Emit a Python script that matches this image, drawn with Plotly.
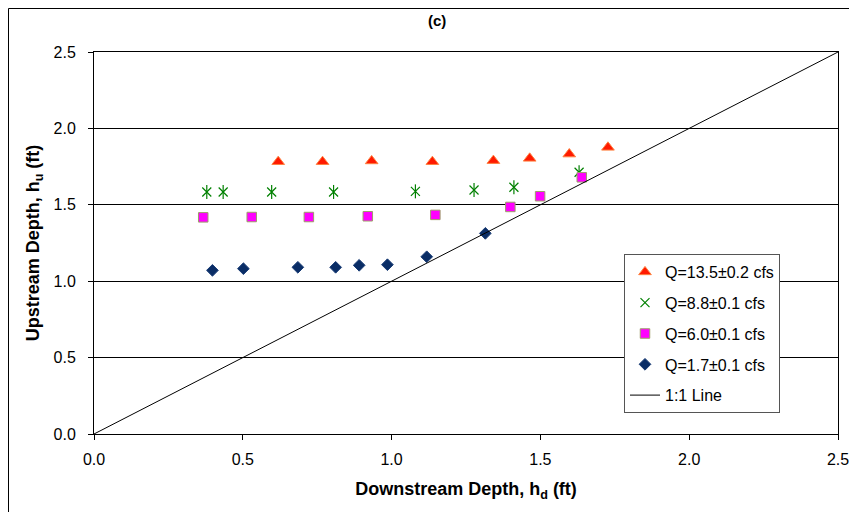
import plotly.graph_objects as go

# ---- data ----
q135_x = [0.619, 0.768, 0.933, 1.137, 1.342, 1.464, 1.597, 1.727]
q135_y = [1.782, 1.782, 1.787, 1.782, 1.789, 1.804, 1.832, 1.876]

q88_x = [0.379, 0.434, 0.597, 0.805, 1.080, 1.277, 1.411, 1.630]
q88_y = [1.584, 1.584, 1.584, 1.584, 1.588, 1.597, 1.615, 1.713]

q60_x = [0.367, 0.530, 0.722, 0.920, 1.147, 1.399, 1.499, 1.639]
q60_y = [1.418, 1.420, 1.420, 1.425, 1.434, 1.486, 1.556, 1.680]

q17_x = [0.398, 0.502, 0.685, 0.812, 0.891, 0.986, 1.118, 1.315]
q17_y = [1.071, 1.082, 1.091, 1.091, 1.104, 1.108, 1.160, 1.313]

line_x = [0.0, 2.5]
line_y = [0.0, 2.5]

tick_vals = [0.0, 0.5, 1.0, 1.5, 2.0, 2.5]
tick_text = ["0.0", "0.5", "1.0", "1.5", "2.0", "2.5"]

names = ["Q=13.5±0.2 cfs", "Q=8.8±0.1 cfs", "Q=6.0±0.1 cfs", "Q=1.7±0.1 cfs", "1:1 Line"]

FONT = "Liberation Sans, Arial, sans-serif"

# figure geometry (page is offset by the 8px body margin)
W, H = 849, 504
L, T, PW, PH = 86, 44, 744, 382
R, B = W - L - PW, H - T - PH


def px(fx):
    return (fx - L) / PW


def py(fy):
    return (T + PH - fy) / PH


fig = go.Figure()
fig.add_trace(go.Scatter(
    x=q135_x, y=q135_y, mode="markers", name=names[0], legendgroup="a",
    marker=dict(symbol="triangle-up", size=11, color="#FF1A00",
                line=dict(color="#FF8040", width=1))))
fig.add_trace(go.Scatter(
    x=q88_x, y=q88_y, mode="markers", name=names[1], legendgroup="b",
    marker=dict(symbol="x-thin-open", size=9, color="#008000",
                line=dict(color="#008000", width=1.2))))
fig.add_trace(go.Scatter(
    x=q88_x, y=q88_y, mode="markers", name=names[1], legendgroup="b",
    showlegend=False, hoverinfo="skip",
    marker=dict(symbol="line-ns-open", size=10, color="#008000",
                line=dict(color="#008000", width=1.2))))
fig.add_trace(go.Scatter(
    x=q60_x, y=q60_y, mode="markers", name=names[2], legendgroup="c",
    marker=dict(symbol="square", size=9.5, color="#FF00FF",
                line=dict(color="#9E9E6A", width=1))))
fig.add_trace(go.Scatter(
    x=q17_x, y=q17_y, mode="markers", name=names[3], legendgroup="d",
    marker=dict(symbol="diamond", size=9, color="#0A2D66",
                line=dict(color="#1A3D76", width=1))))
fig.add_trace(go.Scatter(
    x=line_x, y=line_y, mode="lines", name=names[4], legendgroup="e",
    line=dict(color="black", width=1)))

axis_common = dict(
    range=[0, 2.5], tickvals=tick_vals, ticktext=tick_text,
    ticks="outside", ticklen=5, tickcolor="black", tickwidth=1,
    showline=True, linecolor="black", linewidth=1, mirror=True,
    tickfont=dict(family=FONT, size=16, color="black"),
    zeroline=False,
)

fig.update_xaxes(**axis_common, showgrid=False, ticklabelstandoff=6,
                 title=dict(text="<b>Downstream Depth, h<sub>d</sub> (ft)</b>",
                            font=dict(family=FONT, size=18, color="black"),
                            standoff=15))
fig.update_yaxes(**axis_common, showgrid=True, gridcolor="black", gridwidth=1,
                 ticklabelstandoff=9,
                 title=dict(text="<b>Upstream Depth, h<sub>u</sub> (ft)</b>",
                            font=dict(family=FONT, size=18, color="black"),
                            standoff=9))

fig.update_layout(
    width=W, height=H,
    margin=dict(l=L, r=R, t=T, b=B, autoexpand=False),
    paper_bgcolor="white", plot_bgcolor="white",
    showlegend=True,
    legend=dict(x=px(616), y=py(246), xanchor="left", yanchor="top",
                bgcolor="white", bordercolor="#555555", borderwidth=1,
                font=dict(family=FONT, size=16, color="black"),
                tracegroupgap=7, traceorder="grouped"),
    shapes=[dict(type="rect", xref="paper", yref="paper",
                 x0=px(0.5), x1=px(W + 20),
                 y0=py(H + 20), y1=py(0.5),
                 line=dict(color="black", width=1), layer="below")],
    annotations=[dict(text="<b>(c)</b>", xref="paper", yref="paper",
                      x=px(429), y=py(2),
                      xanchor="center", yanchor="top", showarrow=False,
                      font=dict(family=FONT, size=15, color="black"))],
)

fig.write_html("out.html")
